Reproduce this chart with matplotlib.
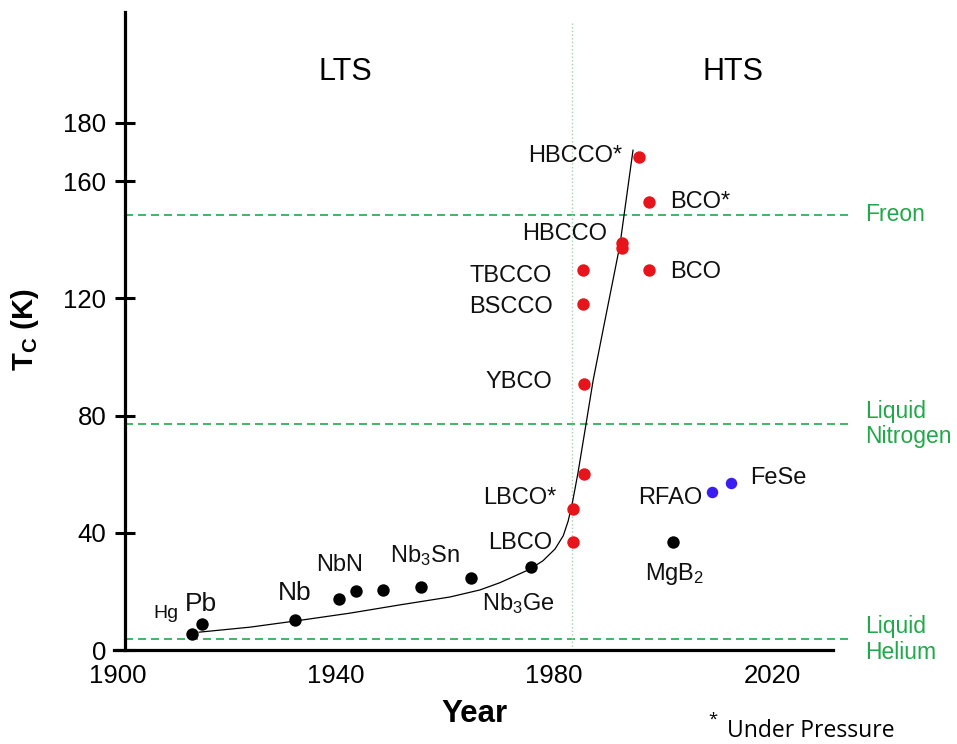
import matplotlib
matplotlib.use("Agg")
import matplotlib.pyplot as plt

plt.rcParams["font.family"] = "Liberation Sans"
plt.rcParams["mathtext.fontset"] = "custom"
plt.rcParams["mathtext.rm"] = "Liberation Sans"
plt.rcParams["mathtext.it"] = "Liberation Sans"
plt.rcParams["mathtext.bf"] = "Liberation Sans:bold"

# low temperature superconductors (black dots)
lts_years = [1913.6, 1915.4, 1932.5, 1940.6, 1943.7, 1948.6, 1955.6, 1964.8, 1975.8, 2001.8]
lts_tc = [5.5, 8.9, 10.2, 17.4, 20.1, 20.5, 21.5, 24.6, 28.3, 36.9]

# cuprates (red dots)
hts_years = [1983.5, 1983.5, 1985.5, 1985.5, 1985.3, 1985.3, 1992.5, 1992.5, 1997.4, 1997.4, 1995.6]
hts_tc = [36.9, 48.1, 60.1, 90.8, 118.1, 129.7, 138.9, 137.2, 129.7, 152.9, 168.3]

# iron based (blue dots)
fe_years = [2009.0, 2012.5]
fe_tc = [53.9, 57.0]

# trend curve
curve_years = [1914.9, 1924.2, 1932.5, 1942.6, 1951.7, 1960.9, 1966.4, 1970.1, 1975.6,
               1978.0, 1980.2, 1981.7, 1982.6, 1983.4, 1984.4, 1985.7, 1987.2,
               1989.0, 1992.1, 1994.5]
curve_tc = [6.1, 7.8, 9.9, 12.6, 15.4, 18.1, 20.5, 23.0, 27.6,
            30.5, 34.5, 39.0, 44.0, 50.5, 60.4, 75.1, 92.2,
            109.2, 138.2, 170.6]

# coolant levels
coolant_tc = [148.5, 77.1, 3.7]
coolant_names = ["Freon", "Liquid\nNitrogen", "Liquid\nHelium"]

# point labels: text, year, Tc, size, alignment
labels = [
    ("Hg", 1908.8, 12.3, 14, "center"),
    ("Pb", 1915.2, 15.7, 19, "center"),
    ("Nb", 1932.5, 19.5, 19, "center"),
    ("NbN", 1940.7, 29.0, 17, "center"),
    ("Nb$_3$Sn", 1956.3, 32.1, 17, "center"),
    ("Nb$_3$Ge", 1973.4, 15.7, 17, "center"),
    ("MgB$_2$", 2002.2, 26.0, 17, "center"),
    ("LBCO", 1979.6, 36.5, 17, "right"),
    ("LBCO*", 1980.5, 51.9, 17, "right"),
    ("YBCO", 1979.6, 91.5, 17, "right"),
    ("BSCCO", 1979.8, 117.0, 17, "right"),
    ("TBCCO", 1979.6, 127.6, 17, "right"),
    ("HBCCO", 1989.7, 142.0, 17, "right"),
    ("HBCCO*", 1992.5, 168.6, 17, "right"),
    ("BCO*", 2001.3, 152.9, 17, "left"),
    ("BCO", 2001.3, 129.0, 17, "left"),
    ("RFAO", 2007.2, 51.9, 17, "right"),
    ("FeSe", 2016.0, 58.7, 17, "left"),
]

green = "#22a84a"
left_year = 1901.28

fig = plt.figure(figsize=(9.57, 7.44), dpi=100)
ax = fig.add_axes([0.1191, 0.1263, 0.7513, 0.8575])
ax.set_xlim(1899.27, 2031.19)
ax.set_ylim(0, 217.75)

# coolant lines run past the end of the axis
for tc, name in zip(coolant_tc, coolant_names):
    ax.plot([left_year, 2034.3], [tc, tc], color=green, lw=1.2,
            dashes=(4.8, 3.0), clip_on=False, zorder=1)
    ax.text(2037.1, tc, name, color=green, fontsize=16.5, ha="left",
            va="center", linespacing=1.15, clip_on=False)

# LTS / HTS divider
ax.plot([1983.3, 1983.3], [0, 214], color="#9fd4a8", lw=1.0, ls=":", zorder=1)

ax.plot(curve_years, curve_tc, color="black", lw=0.9, zorder=2)

ax.scatter(lts_years, lts_tc, s=80, color="black", zorder=3, linewidths=0)
ax.scatter(hts_years, hts_tc, s=80, color="#e8141b", zorder=3, linewidths=0)
ax.scatter(fe_years, fe_tc, s=68, color="#3b1cf2", zorder=3, linewidths=0)

for txt, yr, tc, size, ha in labels:
    ax.text(yr, tc, txt, fontsize=size, ha=ha, va="center", color="#111111")

ax.text(1941.7, 197.3, "LTS", fontsize=22, ha="center", va="center")
ax.text(2012.8, 197.3, "HTS", fontsize=22, ha="center", va="center")

# axes styling
for side in ["top", "right"]:
    ax.spines[side].set_visible(False)
ax.spines["left"].set_position(("data", left_year))
ax.spines["left"].set_linewidth(2.3)
ax.spines["bottom"].set_linewidth(2.3)

ax.set_yticks([0, 40, 80, 120, 160, 180])
ax.tick_params(axis="y", direction="inout", length=15, width=2.2,
               labelsize=18.5, pad=6)
ax.set_xticks([1900, 1940, 1980, 2020])
ax.tick_params(axis="x", length=0, labelsize=18.5, pad=10)

fig.text(474 / 957, 1 - 714 / 744, "Year", fontsize=22.5, fontweight="bold",
         ha="center", va="center")
fig.text(25 / 957, 1 - 330 / 744, r"T$_\mathregular{C}$ (K)", fontsize=21,
         fontweight="bold", rotation=90, ha="center", va="center")

fig.text(713 / 957, 1 - 720 / 744, "*", fontsize=12, family="Open Sans",
         ha="center", va="center")
fig.text(727 / 957, 1 - 731 / 744, "Under Pressure", fontsize=16.5,
         family="Open Sans", ha="left", va="center")

fig.savefig("out.png", dpi=100)
